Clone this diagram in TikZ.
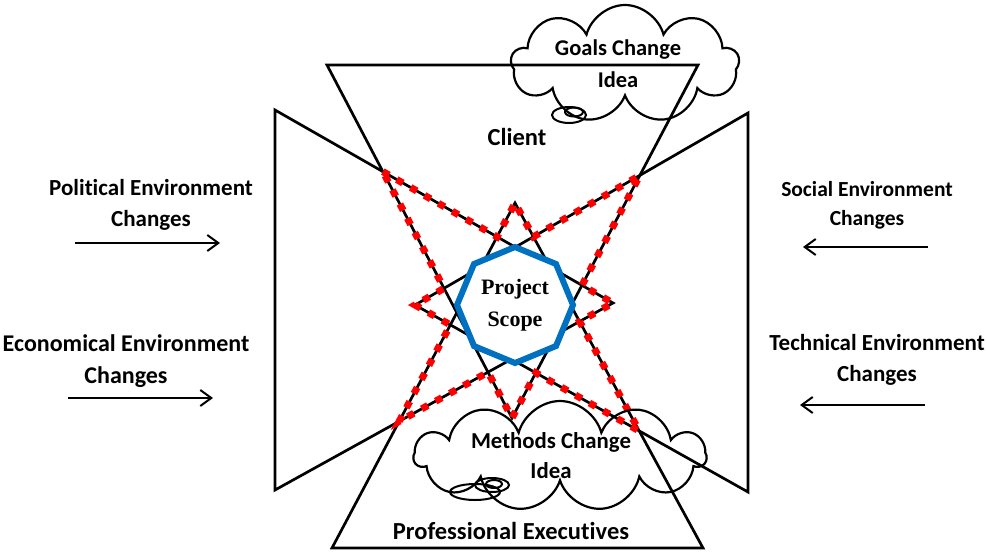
\documentclass[tikz,border=0pt]{standalone}
\usepackage{fontspec}
\setmainfont{Carlito}[Ligatures=NoCommon]
\newfontfamily\scopefont{Liberation Serif}
\usepackage{tikz}
\usetikzlibrary{shapes.geometric, shapes.symbols, arrows.meta, calc}

\definecolor{scopeblue}{RGB}{0,112,192}

\tikzset{
  edge line/.style={line width=2.7pt, black},
  scope dots/.style={red, line width=7pt, dash pattern=on 7pt off 9pt},
  label text/.style={font=\bfseries\fontsize{23}{31}\selectfont, align=center, inner sep=0pt},
  idea cloud/.style={cloud, cloud puffs=9, aspect=2.2, draw, line width=2.2pt, inner sep=0pt},
  push arrow/.style={line width=2pt, -{Straight Barb[length=11pt,width=16pt]}}
}

\begin{document}
\begin{tikzpicture}[x=1pt,y=-1pt]
            \useasboundingbox (0,0) rectangle (987,552);
            % Corners of the four triangles
            \coordinate (ctl) at (327,65);
            \coordinate (ctr) at (698,65);
            \coordinate (cap) at (512,418);
            \coordinate (ebl) at (332,548);
            \coordinate (ebr) at (703,548);
            \coordinate (eap) at (515,203);
            \coordinate (ltop) at (275,110);
            \coordinate (lbot) at (275,490);
            \coordinate (lap) at (613,303);
            \coordinate (rtop) at (748,113);
            \coordinate (rbot) at (748,492);
            \coordinate (rap) at (415,305);

            % Draw the client, executives, left and right triangles
            \draw[edge line] (ctl) -- (ctr) -- (cap) -- cycle;
            \draw[edge line] (ebl) -- (ebr) -- (eap) -- cycle;
            \draw[edge line] (ltop) -- (lbot) -- (lap) -- cycle;
            \draw[edge line] (rtop) -- (rbot) -- (rap) -- cycle;

            % Crossing points of the triangle sides
            \coordinate (xa) at (intersection of ctl--cap and ltop--lap);
            \coordinate (x1) at (intersection of ltop--lap and ebl--eap);
            \coordinate (x2) at (intersection of rtop--rap and ebr--eap);
            \coordinate (xb) at (intersection of rtop--rap and ctr--cap);
            \coordinate (x3) at (intersection of ctr--cap and ltop--lap);
            \coordinate (x4) at (intersection of ebr--eap and lbot--lap);
            \coordinate (xd) at (intersection of rbot--rap and ebr--eap);
            \coordinate (x5) at (intersection of rbot--rap and ctr--cap);
            \coordinate (x6) at (intersection of lbot--lap and ctl--cap);
            \coordinate (xc) at (intersection of lbot--lap and ebl--eap);
            \coordinate (x7) at (intersection of ebl--eap and rbot--rap);
            \coordinate (x8) at (intersection of ctl--cap and rtop--rap);

            % Draw the dotted star
            \draw[scope dots] (xa) -- (x1) -- (eap) -- (x2) -- (xb) -- (x3) -- (lap) -- (x4)
                -- (xd) -- (x5) -- (cap) -- (x6) -- (xc) -- (x7) -- (rap) -- (x8) -- cycle;

            % Project scope in the middle
            \node[regular polygon, regular polygon sides=8, shape border rotate=22.5,
                minimum size=116pt, draw=scopeblue, line width=6pt, fill=white,
                font=\scopefont\bfseries\fontsize{22}{32}\selectfont, align=center, inner sep=0pt]
                (scope) at (515,305) {Project\\Scope};

            % Idea clouds
            \node[idea cloud, minimum width=228pt, minimum height=118pt] (goals) at (625,64) {};
            \node[label text, font=\bfseries\fontsize{22.5}{32}\selectfont] (goalstxt) at (618,64) {Goals Change\\Idea};
            \draw[line width=2pt] (569,115) ellipse [x radius=17pt, y radius=8pt];
            \draw[line width=2pt] (574,112) ellipse [x radius=9pt, y radius=4.5pt];
            \node[idea cloud, cloud puffs=11, minimum width=292pt, minimum height=110pt] (methods) at (560,456) {};
            \node[label text, font=\bfseries\fontsize{22.8}{30}\selectfont] (methodstxt) at (551,456) {Methods Change\\Idea};
            \draw[line width=2pt] (475,492) ellipse [x radius=25pt, y radius=8pt];
            \draw[line width=2pt] (492,485) ellipse [x radius=17pt, y radius=7pt];
            \draw[line width=2pt] (494,484) ellipse [x radius=8pt, y radius=4pt];

            % Label the groups
            \node[label text, font=\bfseries\fontsize{24.5}{31}\selectfont] (client) at (517,137) {Client};
            \node[label text, font=\bfseries\fontsize{24.5}{31}\selectfont] (exec) at (511,531) {Professional Executives};

            % Environment changes
            \node[label text] (pol) at (151,205) {Political Environment\\Changes};
            \node[label text, font=\bfseries\fontsize{24}{32}\selectfont] (eco) at (126,361) {Economical Environment\\Changes};
            \node[label text, font=\bfseries\fontsize{21.5}{29}\selectfont] (soc) at (867,205) {Social Environment\\Changes};
            \node[label text] (tec) at (877,360) {Technical Environment\\Changes};
            \coordinate (pol1) at (75,243);
            \coordinate (pol2) at (220,243);
            \coordinate (eco1) at (68,398);
            \coordinate (eco2) at (213,398);
            \coordinate (soc1) at (928,247);
            \coordinate (soc2) at (803,247);
            \coordinate (tec1) at (925,405);
            \coordinate (tec2) at (800,405);
            \draw[push arrow] (pol1) -- (pol2);
            \draw[push arrow] (eco1) -- (eco2);
            \draw[push arrow] (soc1) -- (soc2);
            \draw[push arrow] (tec1) -- (tec2);
        \end{tikzpicture}
\end{document}
